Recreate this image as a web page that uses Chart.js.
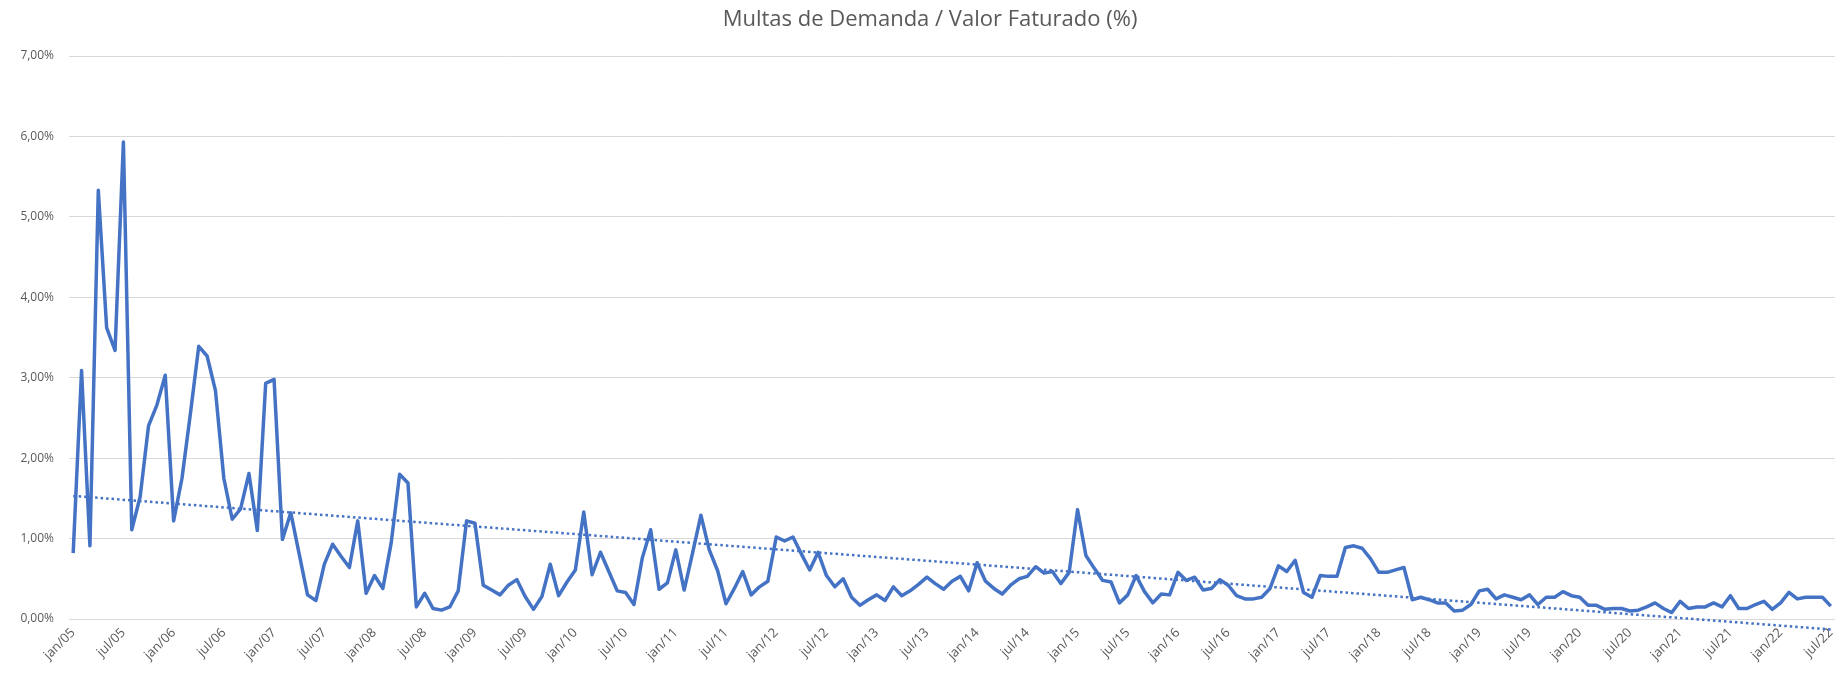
<!DOCTYPE html>
<html>
<head>
<meta charset="utf-8">
<title>Multas de Demanda / Valor Faturado (%)</title>
<script src="https://cdn.jsdelivr.net/npm/chart.js@4.4.0/dist/chart.umd.min.js"></script>
<style>
  html, body { margin: 0; padding: 0; background: #ffffff; }
  canvas { display: block; }
</style>
</head>
<body>
<canvas id="chart" width="1848" height="673"></canvas>
<script>
// monthly values (%), one array per year
const v2005 = [0.82, 3.09, 0.91, 5.33, 3.62, 3.34, 5.93, 1.11, 1.52, 2.40, 2.66, 3.03];
const v2006 = [1.22, 1.75, 2.55, 3.39, 3.27, 2.84, 1.75, 1.24, 1.37, 1.81, 1.10, 2.93];
const v2007 = [2.98, 0.99, 1.32, 0.81, 0.30, 0.23, 0.68, 0.93, 0.78, 0.64, 1.22, 0.32];
const v2008 = [0.54, 0.38, 0.95, 1.80, 1.69, 0.15, 0.32, 0.13, 0.11, 0.15, 0.35, 1.22];
const v2009 = [1.19, 0.42, 0.36, 0.30, 0.42, 0.49, 0.28, 0.12, 0.28, 0.68, 0.29, 0.46];
const v2010 = [0.61, 1.33, 0.55, 0.83, 0.59, 0.35, 0.33, 0.18, 0.76, 1.11, 0.37, 0.45];
const v2011 = [0.86, 0.36, 0.82, 1.29, 0.86, 0.60, 0.19, 0.38, 0.59, 0.30, 0.40, 0.47];
const v2012 = [1.02, 0.97, 1.02, 0.81, 0.61, 0.83, 0.54, 0.40, 0.50, 0.27, 0.17, 0.24];
const v2013 = [0.30, 0.23, 0.40, 0.29, 0.35, 0.43, 0.52, 0.44, 0.37, 0.47, 0.53, 0.35];
const v2014 = [0.70, 0.47, 0.38, 0.31, 0.42, 0.50, 0.53, 0.65, 0.57, 0.59, 0.44, 0.58];
const v2015 = [1.36, 0.79, 0.63, 0.48, 0.46, 0.20, 0.30, 0.54, 0.34, 0.20, 0.31, 0.30];
const v2016 = [0.58, 0.48, 0.52, 0.36, 0.38, 0.49, 0.42, 0.29, 0.25, 0.25, 0.27, 0.38];
const v2017 = [0.66, 0.59, 0.73, 0.33, 0.27, 0.54, 0.53, 0.53, 0.89, 0.91, 0.88, 0.75];
const v2018 = [0.58, 0.58, 0.61, 0.64, 0.24, 0.27, 0.24, 0.20, 0.20, 0.10, 0.11, 0.18];
const v2019 = [0.35, 0.37, 0.25, 0.30, 0.27, 0.24, 0.30, 0.18, 0.27, 0.27, 0.34, 0.29];
const v2020 = [0.27, 0.17, 0.17, 0.12, 0.13, 0.13, 0.10, 0.11, 0.15, 0.20, 0.13, 0.08];
const v2021 = [0.22, 0.13, 0.15, 0.15, 0.20, 0.15, 0.29, 0.13, 0.13, 0.18, 0.22, 0.12];
const v2022 = [0.20, 0.33, 0.25, 0.27, 0.27, 0.27, 0.16];

const years = [v2005, v2006, v2007, v2008, v2009, v2010, v2011, v2012, v2013,
               v2014, v2015, v2016, v2017, v2018, v2019, v2020, v2021, v2022];
const monthNames = ['jan', 'fev', 'mar', 'abr', 'mai', 'jun', 'jul', 'ago', 'set', 'out', 'nov', 'dez'];

// linear trend line, end points
const trendStart = 1.53;
const trendEnd = -0.13;

const titleText = 'Multas de Demanda / Valor Faturado (%)';
const yTicks = [0, 1, 2, 3, 4, 5, 6, 7];

const labels = [];
const values = [];
years.forEach((arr, y) => {
  const yy = String(5 + y).padStart(2, '0');
  arr.forEach((v, m) => {
    labels.push(monthNames[m] + '/' + yy);
    values.push(v);
  });
});

const trend = [
  { x: labels[0], y: trendStart },
  { x: labels[labels.length - 1], y: trendEnd }
];

const grey = '#595959';
const blue = '#4472C4';
const tickFont = { family: 'Open Sans', size: 12 };

// title drawn by hand so it can sit where the reference has it
const titlePlugin = {
  id: 'refTitle',
  afterDraw(chart) {
    const ctx = chart.ctx;
    ctx.save();
    ctx.font = '22px "Open Sans"';
    ctx.fillStyle = grey;
    ctx.textAlign = 'center';
    ctx.textBaseline = 'middle';
    ctx.fillText(titleText, 930, 20);
    ctx.restore();
  }
};

new Chart(document.getElementById('chart'), {
  type: 'line',
  data: {
    labels: labels,
    datasets: [
      {
        label: 'Multas de Demanda / Valor Faturado',
        data: values,
        borderColor: blue,
        borderWidth: 3.5,
        pointRadius: 0,
        tension: 0,
        fill: false,
        borderJoinStyle: 'round'
      },
      {
        label: 'Linear',
        data: trend,
        borderColor: blue,
        borderWidth: 2.5,
        borderDash: [2.5, 3],
        pointRadius: 0,
        fill: false,
        clip: false
      }
    ]
  },
  plugins: [titlePlugin],
  options: {
    responsive: false,
    animation: false,
    layout: { padding: { left: 0, right: 13, top: 56, bottom: 0 } },
    plugins: {
      legend: { display: false },
      tooltip: { enabled: false },
      title: { display: false }
    },
    scales: {
      x: {
        offset: true,
        grid: { display: false, drawTicks: false },
        border: { display: false },
        ticks: {
          autoSkip: false,
          minRotation: 45,
          maxRotation: 45,
          padding: 6,
          color: grey,
          font: { family: 'Open Sans', size: 13 },
          callback: function (v, i) { return i % 6 === 0 ? this.getLabelForValue(v) : ''; }
        },
        afterFit: s => { s.height = 54; }
      },
      y: {
        min: 0,
        max: 7,
        afterBuildTicks: s => { s.ticks = yTicks.map(v => ({ value: v })); },
        ticks: {
          padding: 15,
          color: grey,
          font: tickFont,
          callback: v => v.toFixed(2).replace('.', ',') + '%'
        },
        grid: { color: '#d9d9d9', lineWidth: 1, drawTicks: false },
        border: { display: false },
        afterFit: s => { s.width = 69; }
      }
    }
  }
});
</script>
</body>
</html>
